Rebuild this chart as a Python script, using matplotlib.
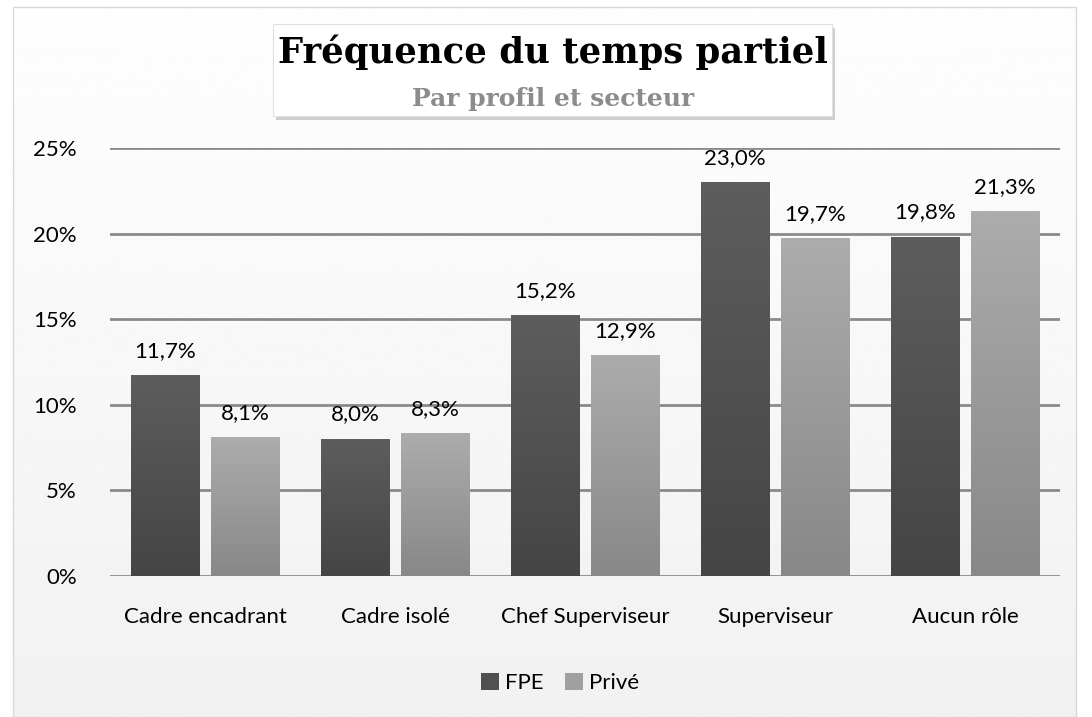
import numpy as np
import matplotlib
matplotlib.use("Agg")
import matplotlib.pyplot as plt
from matplotlib.patches import Rectangle, Patch

categories = ["Cadre encadrant", "Cadre isolé", "Chef Superviseur", "Superviseur", "Aucun rôle"]
fpe = [11.7, 8.0, 15.2, 23.0, 19.8]
prive = [8.1, 8.3, 12.9, 19.7, 21.3]
series_names = ["FPE", "Privé"]
yticks = [0, 5, 10, 15, 20, 25]

FONT = "Lato"
FS = 16
fig = plt.figure(figsize=(10.92, 7.17), dpi=100)
fig.patch.set_facecolor("white")

# background panel with gradient
bg = fig.add_axes([0, 0, 1, 1], zorder=-10)
bg.set_xlim(0, 1); bg.set_ylim(0, 1); bg.axis("off")
grad = np.linspace(0.945, 0.995, 256).reshape(-1, 1)
bg.imshow(grad, extent=[0.012, 0.985, 0.0, 0.99], cmap="gray", vmin=0, vmax=1, aspect="auto", origin="lower")
bg.add_patch(Rectangle((0.012, 0.0), 0.973, 0.99, fill=False, edgecolor="#d9d9d9", lw=1))

# title box with shadow
bg.add_patch(Rectangle((0.253, 0.833), 0.512, 0.128, facecolor="#b0b0b0", edgecolor="none", alpha=0.6))
bg.add_patch(Rectangle((0.250, 0.838), 0.512, 0.128, facecolor="white", edgecolor="#e0e0e0", lw=0.8))
fig.text(0.5065, 0.927, "Fréquence du temps partiel", ha="center", va="center",
         fontsize=25.5, fontweight="bold", family="DejaVu Serif", color="black")
fig.text(0.5065, 0.862, "Par profil et secteur", ha="center", va="center",
         fontsize=18, fontweight="bold", family="DejaVu Serif", color="#8c8c8c")

ax = fig.add_axes([110/1092, 1-576/717, 950/1092, (576-148)/717])
ax.patch.set_alpha(0)
x = np.arange(len(categories))
w = 0.36
off = 0.21
b1 = ax.bar(x - off, fpe, w, color="#555555", zorder=3, label=series_names[0])
b2 = ax.bar(x + off, prive, w, color="#a0a0a0", zorder=3, label=series_names[1])

def gradient_fill(bars, top, bottom):
    cmap = matplotlib.colors.LinearSegmentedColormap.from_list("g", [bottom, top])
    for r in bars:
        r.set_alpha(0)
        x0, y0 = r.get_x(), r.get_y()
        g = np.linspace(0, 1, 100).reshape(-1, 1)
        ax.imshow(g, extent=[x0, x0 + r.get_width(), y0, y0 + r.get_height()],
                  cmap=cmap, aspect="auto", origin="lower", zorder=3)
gradient_fill(b1, "#5d5d5d", "#454545")
gradient_fill(b2, "#acacac", "#888888")

for bars, vals in ((b1, fpe), (b2, prive)):
    for r, v in zip(bars, vals):
        ax.text(r.get_x() + r.get_width() / 2, v + 0.85, f"{v:.1f}%".replace(".", ","),
                ha="center", va="bottom", fontsize=FS, family=FONT, color="black", zorder=5)

ax.set_xlim(-0.5, len(categories) - 0.5)
ax.set_ylim(0, 25)
ax.set_yticks(yticks)
ax.set_yticklabels([f"{t}%" for t in yticks], fontsize=FS, family=FONT)
ax.set_xticks(x)
ax.set_xticklabels(categories, fontsize=FS, family=FONT)
ax.tick_params(axis="x", length=0, pad=22)
ax.tick_params(axis="y", length=0, pad=24)
for s in ax.spines.values():
    s.set_visible(False)
ax.yaxis.grid(True, color="#8a8a8a", lw=2, zorder=1)
ax.set_axisbelow(True)

handles = [Patch(facecolor="#505050"), Patch(facecolor="#a0a0a0")]
fig.legend(handles, series_names, loc="center", bbox_to_anchor=(0.513, 0.047), ncol=2,
           frameon=False, prop={"family": FONT, "size": FS}, handlelength=0.8, handleheight=0.8,
           handletextpad=0.25, columnspacing=1.0)

fig.savefig("out.png", dpi=100)
